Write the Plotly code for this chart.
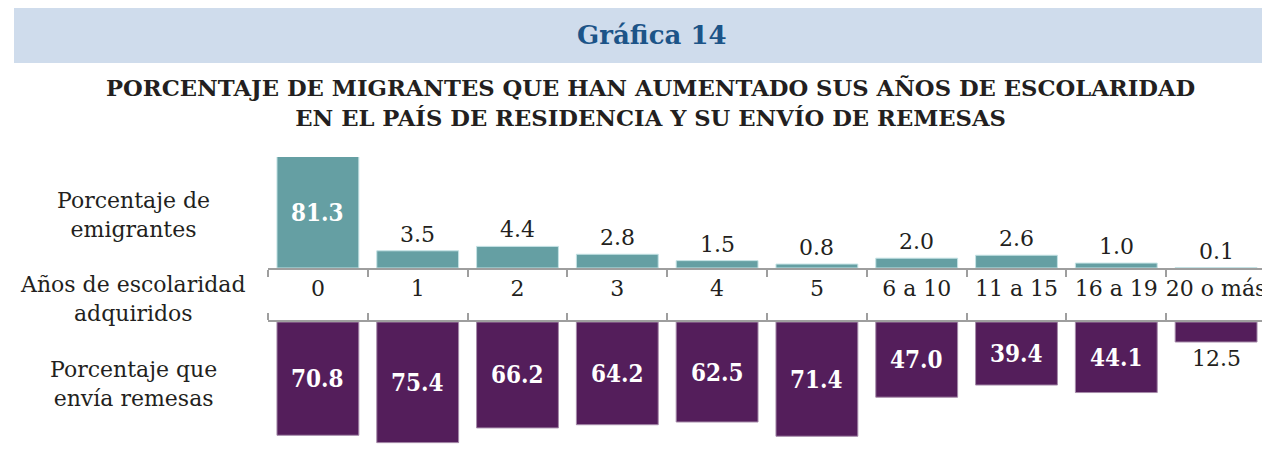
import plotly.graph_objects as go

categorias = ["0", "1", "2", "3", "4", "5", "6 a 10", "11 a 15", "16 a 19", "20 o más"]
pct_emigrantes = [81.3, 3.5, 4.4, 2.8, 1.5, 0.8, 2.0, 2.6, 1.0, 0.1]
pct_remesas = [70.8, 75.4, 66.2, 64.2, 62.5, 71.4, 47.0, 39.4, 44.1, 12.5]

# the page body has an 8px margin: the figure starts at (8, 8) in the window
OFF = 8
W, H = 1270 - OFF, 465 - OFF
def py(p):
    return 1 - (p - OFF) / H
def px(p):
    return (p - OFF) / W

TEAL = "#659fa3"
PURPLE = "#541e5b"
FONT = "DejaVu Serif"
BOLDFONT = "DejaVu Serif Condensed, DejaVu Serif"
AXIS = "#9e9e9e"
TOP_MAX = 22.6
BOT_MAX = 85

fig = go.Figure()
fig.add_trace(go.Bar(x=categorias, y=pct_emigrantes, xaxis="x", yaxis="y",
                     marker=dict(color=TEAL, line=dict(color="#c4e2e4", width=1)),
                     hoverinfo="skip"))
fig.add_trace(go.Bar(x=categorias, y=pct_remesas, xaxis="x2", yaxis="y2",
                     marker=dict(color=PURPLE, line=dict(color="#a58aa9", width=1)),
                     hoverinfo="skip"))

ann = []
for c, v in zip(categorias, pct_emigrantes):
    if v > TOP_MAX:
        ann.append(dict(x=c, y=TOP_MAX / 2, xref="x", yref="y", text=f"<b>{v:.1f}</b>",
                        showarrow=False, font=dict(family=BOLDFONT, size=24, color="white")))
    else:
        ann.append(dict(x=c, y=v, xref="x", yref="y", text=f"{v:.1f}", yanchor="bottom",
                        yshift=2, showarrow=False, font=dict(family=FONT, size=22, color="#231f20")))
for c, v in zip(categorias, pct_remesas):
    if v >= 20:
        ann.append(dict(x=c, y=v / 2, xref="x2", yref="y2", text=f"<b>{v:.1f}</b>",
                        showarrow=False, font=dict(family=BOLDFONT, size=24, color="white")))
    else:
        ann.append(dict(x=c, y=v, xref="x2", yref="y2", text=f"{v:.1f}", yanchor="top",
                        yshift=-2, showarrow=False, font=dict(family=FONT, size=22, color="#231f20")))

left_labels = [("Porcentaje de<br>emigrantes", 215),
               ("Años de escolaridad<br>adquiridos", 299),
               ("Porcentaje que<br>envía remesas", 384)]
for t, yc in left_labels:
    ann.append(dict(x=px(133), y=py(yc), xref="paper", yref="paper", text=t, showarrow=False,
                    xanchor="center", yanchor="middle", align="center",
                    font=dict(family=FONT, size=22, color="#231f20")))

ann.append(dict(x=px(652), y=py(35), xref="paper", yref="paper", text="<b>Gráfica 14</b>",
                showarrow=False, xanchor="center", yanchor="middle",
                font=dict(family=FONT, size=26, color="#1c5488")))
ann.append(dict(x=px(651), y=py(103), xref="paper", yref="paper",
                text="<b>PORCENTAJE DE MIGRANTES QUE HAN AUMENTADO SUS AÑOS DE ESCOLARIDAD<br>EN EL PAÍS DE RESIDENCIA Y SU ENVÍO DE REMESAS</b>",
                showarrow=False, xanchor="center", yanchor="middle", align="center",
                font=dict(family=FONT, size=22.7, color="#231f20")))

xcommon = dict(domain=[px(268), px(1266)], type="category", showline=True, linecolor=AXIS,
               linewidth=2, ticks="outside", tickson="boundaries", ticklen=7, tickcolor=AXIS,
               tickwidth=1.5, showgrid=False, zeroline=False, fixedrange=True,
               automargin=False, tickangle=0)

fig.update_layout(
    width=W, height=H, margin=dict(l=0, r=0, t=0, b=0, autoexpand=False),
    paper_bgcolor="white", plot_bgcolor="rgba(0,0,0,0)",
    showlegend=False, bargap=0.18,
    font=dict(family=FONT, color="#231f20"),
    xaxis=dict(**xcommon, anchor="y", side="bottom",
               tickfont=dict(family=FONT, size=22, color="#231f20")),
    xaxis2=dict(**xcommon, anchor="y2", side="top", showticklabels=False, matches="x"),
    yaxis=dict(domain=[py(268), py(157)], range=[0, TOP_MAX], visible=False, fixedrange=True),
    yaxis2=dict(domain=[py(458), py(322)], range=[BOT_MAX, 0], visible=False, fixedrange=True),
    annotations=ann,
    shapes=[dict(type="rect", xref="paper", yref="paper", x0=px(14), x1=1, y0=py(63), y1=py(7),
                 fillcolor="#cfdcec", line=dict(width=0), layer="below")],
)

fig.write_html("out.html")
